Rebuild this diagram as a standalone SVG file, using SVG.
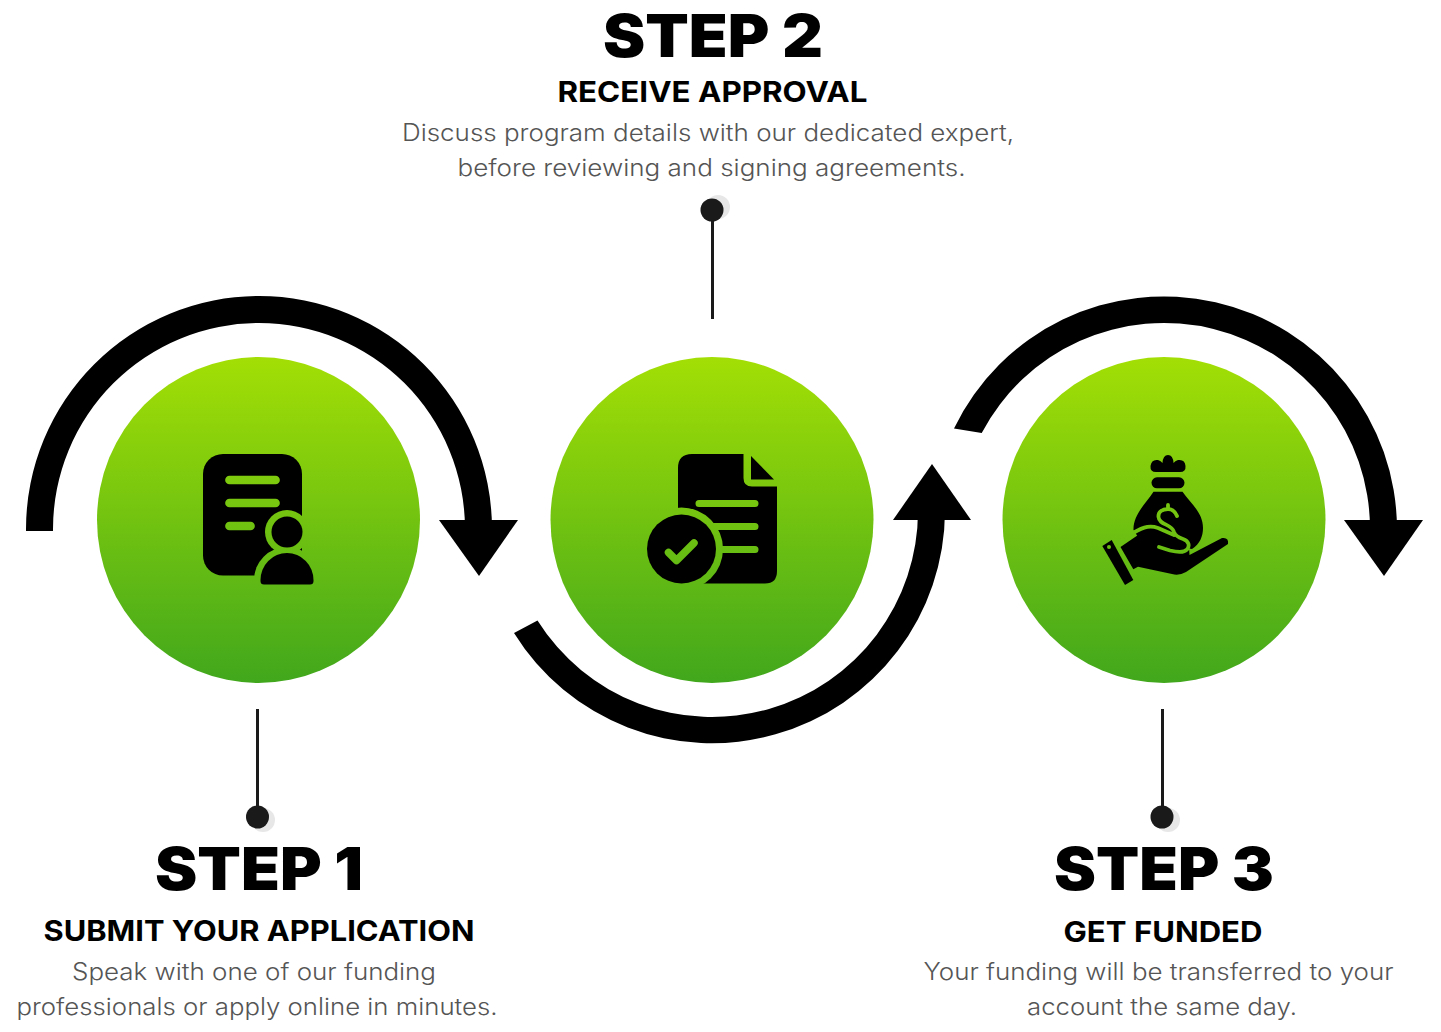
<svg xmlns="http://www.w3.org/2000/svg" width="1441" height="1032" viewBox="0 0 1441 1032">
<style>
.h{font-family:"Inter","Liberation Sans",sans-serif;font-weight:900;fill:#000;text-anchor:middle}
.t{font-size:59px}
.s{font-size:28.500px;font-weight:700}
.d{font-family:"Inter","Liberation Sans",sans-serif;font-size:23.500px;font-weight:300;fill:#555;text-anchor:middle}
.arc{fill:#000}
.ln{stroke:#1a1a1a;stroke-width:3;fill:none}
.dot{fill:#1a1a1a}
.gl{fill:#ddd;opacity:.7}
.ic{fill:#000}
.cut{fill:none;stroke:url(#g);stroke-linecap:round;stroke-linejoin:round}
.cf{fill:url(#g)}
</style>
<defs>
<linearGradient id="g" gradientUnits="userSpaceOnUse" x1="0" y1="357" x2="0" y2="683"><stop offset="0" stop-color="#a3df05"/><stop offset="1" stop-color="#41a71c"/></linearGradient>
</defs>
<g id="connectors">
<path class="arc" d="M26 531V529A233 233 0 0 1 492 529V521H465V529A206 206 0 0 0 53 529V531Z"/>
<polygon points="439,520 518,520 479,576"/>
<path class="arc" d="M514 633A233 233 0 0 0 945 511H918A206 206 0 0 1 537.500 620.500Z"/>
<polygon points="893,520 971,520 932,464"/>
<path class="arc" d="M954 428.500A233 233 0 0 1 1397 529V521H1370V529A206 206 0 0 0 981.700 433Z"/>
<polygon points="1344,520 1423,520 1384,576"/>
<circle class="gl" cx="718" cy="207" r="12"/>
<path class="ln" d="M712.500 210V319"/>
<circle class="dot" cx="712" cy="210" r="11.500"/>
<circle class="gl" cx="263" cy="820" r="12"/>
<path class="ln" d="M257.500 709V817"/>
<circle class="dot" cx="257.500" cy="817" r="11.500"/>
<circle class="gl" cx="1168" cy="820" r="12"/>
<path class="ln" d="M1162.500 709V817"/>
<circle class="dot" cx="1162" cy="817" r="11.500"/>
</g>
<g id="step1">
<ellipse class="cf" cx="258.500" cy="520" rx="161.500" ry="163"/>
<rect class="ic" x="203" y="454" width="99" height="121.500" rx="20"/>
<path class="cut" stroke-width="8.700" d="M229.500 480H275.500M229.500 503H275.500M229.500 526H250.500"/>
<circle class="cf" cx="287" cy="580" r="33"/>
<circle class="cf" cx="287" cy="532" r="22"/>
<circle class="ic" cx="287" cy="532" r="15.500"/>
<path class="ic" d="M260.500 580A26.500 27 0 0 1 313.500 580V581Q313.500 584.500 310 584.500H264Q260.500 584.500 260.500 581Z"/>
</g>
<g id="step2">
<ellipse class="cf" cx="712" cy="520" rx="161.500" ry="163"/>
<path class="ic" d="M692 454H743.500V478Q743.500 486.500 752 486.500H777V571Q777 583.500 765 583.500H692Q678 583.500 678 570V468Q678 454 692 454Z"/>
<path class="ic" d="M751 456L774 479.500H751Z"/>
<path class="cut" stroke-width="7" d="M699 503.500H755M705 526.500H755M705 549.500H755"/>
<circle class="cf" cx="681.500" cy="549" r="41.500"/>
<circle class="ic" cx="681.500" cy="549" r="34.500"/>
<path class="cut" stroke-width="7.500" d="M668.500 552.500L676.500 560.500L694 543"/>
</g>
<g id="step3">
<ellipse class="cf" cx="1164" cy="520" rx="161.500" ry="163"/>
<path class="ic" d="M1156 472Q1150 472 1150.500 466Q1151.500 459 1158 460Q1161 461 1162.500 463Q1163 455 1168 455Q1173 455 1173.500 463Q1175 461 1178 460Q1185 459 1185.500 466Q1186 472 1180 472Z"/>
<rect class="ic" x="1151.500" y="477.300" width="33" height="11" rx="5.500"/>
<path class="ic" d="M1153.500 491.700H1182.500C1190 503 1203 512 1203 528C1203 536 1200 544 1192 549L1140 540L1133.500 530C1133 515 1146 503 1153.500 491.700Z"/>
<path class="ic" d="M1120.500 547L1141 533Q1151 527.500 1158 530L1174 537L1183 540Q1190 545 1189.500 555L1222 538Q1229 537 1228 544L1186 572Q1179 576 1172 574L1138 566.700L1133.300 569.300Z"/>
<path class="cut" stroke-width="3.800" d="M1177 516C1175 510.500 1170.500 509 1168 509C1162 509 1158 512 1158.500 517C1159 525 1172 524 1174 532C1175 535 1177 537 1183 539C1189 541 1190 546 1187 549.500C1184 553 1178 552.500 1170 550.500L1159 547M1168 505V509M1133 533C1145 526 1151 525.500 1158 528L1174 535"/>
<path class="ic" d="M1102.300 546L1111.700 540L1133.300 580L1125 585Z"/>
<circle class="cf" cx="1109" cy="547" r="2"/>
</g>
<g id="text-step1">
<text class="h t" x="259" y="890" textLength="208" lengthAdjust="spacingAndGlyphs">STEP 1</text>
<text class="h s" x="259" y="941" textLength="431" lengthAdjust="spacingAndGlyphs">SUBMIT YOUR APPLICATION</text>
<text class="d" x="254" y="980" textLength="364" lengthAdjust="spacingAndGlyphs">Speak with one of our funding</text>
<text class="d" x="257" y="1015" textLength="481" lengthAdjust="spacingAndGlyphs">professionals or apply online in minutes.</text>
</g>
<g id="text-step2">
<text class="h t" x="713" y="57" textLength="220" lengthAdjust="spacingAndGlyphs">STEP 2</text>
<text class="h s" x="712.500" y="102" textLength="310" lengthAdjust="spacingAndGlyphs">RECEIVE APPROVAL</text>
<text class="d" x="708" y="141" textLength="612" lengthAdjust="spacingAndGlyphs">Discuss program details with our dedicated expert,</text>
<text class="d" x="711.500" y="176" textLength="508" lengthAdjust="spacingAndGlyphs">before reviewing and signing agreements.</text>
</g>
<g id="text-step3">
<text class="h t" x="1164" y="890" textLength="220" lengthAdjust="spacingAndGlyphs">STEP 3</text>
<text class="h s" x="1163" y="942" textLength="199" lengthAdjust="spacingAndGlyphs">GET FUNDED</text>
<text class="d" x="1158.500" y="980" textLength="470" lengthAdjust="spacingAndGlyphs">Your funding will be transferred to your</text>
<text class="d" x="1162" y="1015" textLength="270" lengthAdjust="spacingAndGlyphs">account the same day.</text>
</g>
</svg>
